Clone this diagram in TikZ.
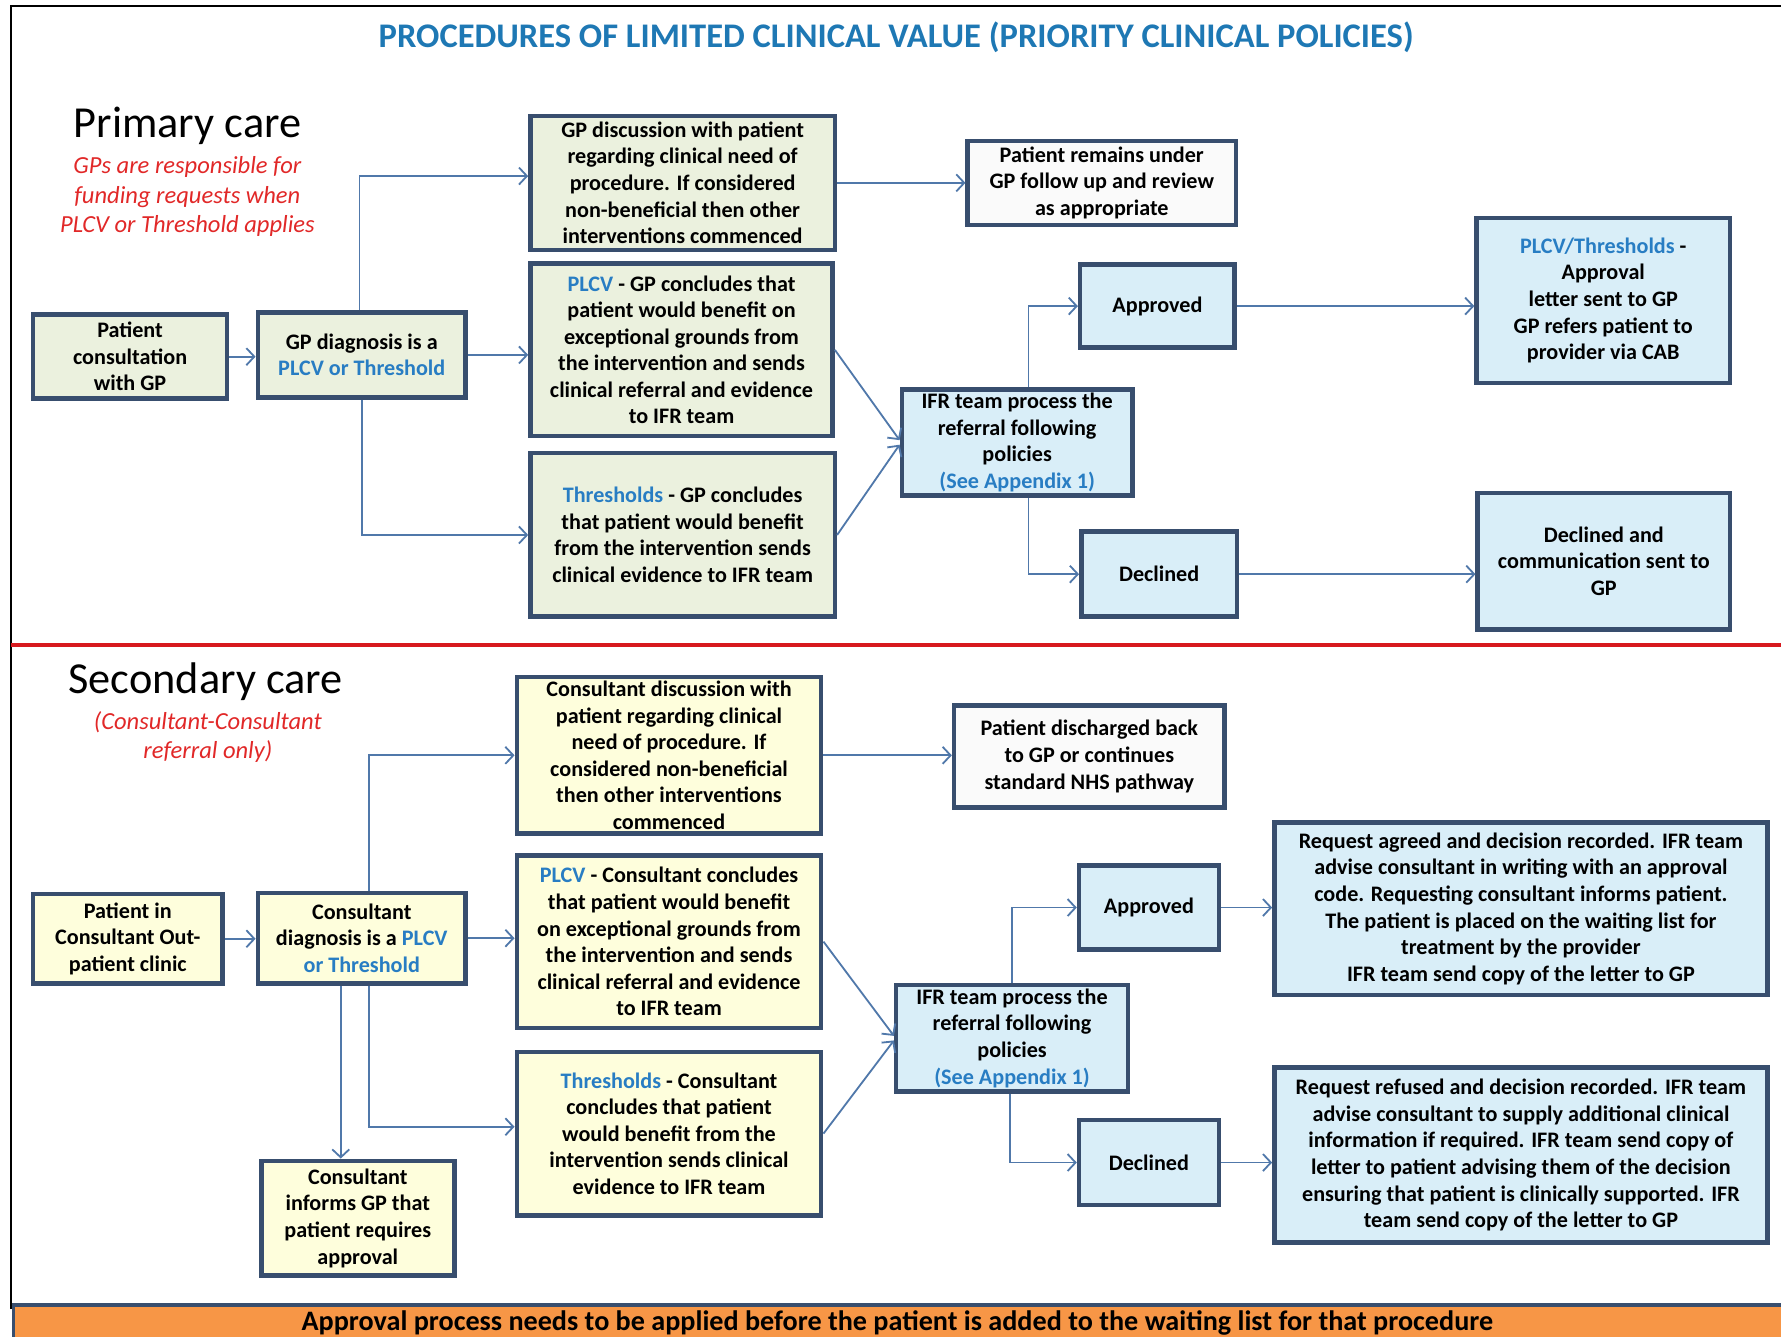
\documentclass[tikz,border=0pt]{standalone}
\usepackage{fontspec}
\setmainfont{Carlito}
\usetikzlibrary{arrows.meta}
\definecolor{bordc}{RGB}{56,78,110}
\definecolor{connc}{RGB}{80,120,170}
\definecolor{greenf}{RGB}{235,241,222}
\definecolor{yellowf}{RGB}{254,254,220}
\definecolor{bluef}{RGB}{217,238,248}
\definecolor{whitef}{RGB}{250,250,250}
\definecolor{titleblue}{RGB}{30,120,180}
\definecolor{txtblue}{RGB}{40,125,195}
\definecolor{redc}{RGB}{225,40,40}
\definecolor{divred}{RGB}{215,25,30}
\definecolor{orangef}{RGB}{247,150,70}
\newcommand{\bl}[1]{\textcolor{txtblue}{#1}}
\begin{document}
\begin{tikzpicture}[x=0.5pt,y=-0.5pt,
  boxbase/.style={draw=bordc, line width=2pt, inner sep=0pt, align=center,
     font=\fontsize{9.75pt}{11.7pt}\selectfont\bfseries},
  gbox/.style={boxbase, fill=greenf},
  ybox/.style={boxbase, fill=yellowf},
  bbox/.style={boxbase, fill=bluef},
  wbox/.style={boxbase, fill=whitef},
  conn/.style={draw=connc, line width=0.8pt, -{Straight Barb[length=3.5pt,width=7.5pt,line width=0.8pt]}},
  heading/.style={font=\fontsize{19.5pt}{23pt}\selectfont, inner sep=0pt},
  rednote/.style={text=redc, align=center, inner sep=0pt, font=\fontsize{10.8pt}{13pt}\selectfont\itshape}
]
\useasboundingbox (0,0) rectangle (1568,1177);
% frame
\draw[black, line width=0.8pt] (10,1152) -- (10,5) -- (1570,5);
% title
\node[text=titleblue, inner sep=0pt, font=\fontsize{15.2pt}{18pt}\selectfont\bfseries] (title) at (789,33)
  {PROCEDURES OF LIMITED CLINICAL VALUE (PRIORITY CLINICAL POLICIES)};
% headings
\node[heading] (prim) at (165,111) {Primary care};
\node[rednote] (primnote) at (165,173) {GPs are responsible for\\funding requests  when\\PLCV or Threshold applies};
\node[heading] (sec) at (181,600) {Secondary care};
\node[rednote] (secnote) at (183,649) {(Consultant-Consultant\\referral  only)};
% divider
\draw[divred, line width=2pt] (10,568) -- (1570,568);

% ---------- primary care boxes
\node[gbox, minimum width=85.5pt, minimum height=37pt] (pc) at (114.5,314) {Patient\\consultation\\with GP};
\node[gbox, minimum width=91.5pt, minimum height=37.5pt] (gpd) at (318.5,312.5) {GP diagnosis is a\\\bl{PLCV or Threshold}};
\node[gbox, minimum width=134pt, minimum height=59pt] (gpdisc) at (601,161) {GP discussion with patient\\regarding clinical need of\\procedure.  If considered\\non-beneficial  then other\\interventions  commenced};
\node[gbox, minimum width=133pt, minimum height=76pt] (gpplcv) at (600,308) {\bl{PLCV} -  GP concludes  that\\patient would benefit on\\exceptional grounds from\\the intervention  and sends\\clinical referral and evidence\\to IFR team};
\node[gbox, minimum width=134pt, minimum height=72pt] (gpthr) at (601,471) {\bl{Thresholds} - GP concludes\\that patient would  benefit\\from the intervention  sends\\clinical evidence to IFR team};
\node[wbox, minimum width=118pt, minimum height=37pt] (remains) at (970,161) {Patient remains under\\GP follow up and review\\as appropriate};
\node[bbox, minimum width=68pt, minimum height=36.5pt] (appr1) at (1019,269.5) {Approved};
\node[bbox, minimum width=101.5pt, minimum height=46.5pt] (ifr1) at (895.5,389.5) {IFR team process the\\referral following\\policies\\\bl{(See Appendix 1)}};
\node[bbox, minimum width=68.5pt, minimum height=37.5pt] (decl1) at (1020.5,505.5) {Declined};
\node[bbox, minimum width=111.5pt, minimum height=72.5pt] (plcvthr) at (1411.5,264.5) {\bl{PLCV/Thresholds}  -\\Approval\\letter sent to GP\\GP refers patient to\\provider via CAB};
\node[bbox, minimum width=111pt, minimum height=60pt] (declcomm) at (1412,494) {Declined and\\communication  sent to\\GP};

% ---------- secondary care boxes
\node[ybox, minimum width=83.5pt, minimum height=39.5pt] (pin) at (112.5,826.5) {Patient in\\Consultant  Out-\\patient clinic};
\node[ybox, minimum width=91.5pt, minimum height=40pt] (cdiag) at (318.5,826) {Consultant\\diagnosis is a \bl{PLCV}\\\bl{or Threshold}};
\node[ybox, minimum width=134pt, minimum height=69pt] (cdisc) at (589,665) {Consultant  discussion  with\\patient regarding clinical\\need of procedure.  If\\considered  non-beneficial\\then other interventions\\commenced};
\node[ybox, minimum width=134pt, minimum height=76pt] (cplcv) at (589,829) {\bl{PLCV} -  Consultant  concludes\\that patient would  benefit\\on exceptional grounds  from\\the intervention  and sends\\clinical referral and evidence\\to IFR team};
\node[ybox, minimum width=134pt, minimum height=72pt] (cthr) at (589,998) {\bl{Thresholds} - Consultant\\concludes that patient\\would benefit from the\\intervention  sends clinical\\evidence to IFR team};
\node[ybox, minimum width=85pt, minimum height=50.5pt] (cinf) at (315,1072.5) {Consultant\\informs GP that\\patient requires\\approval};
\node[wbox, minimum width=119pt, minimum height=45pt] (disch) at (959,666) {Patient discharged  back\\to GP or continues\\standard  NHS pathway};
\node[bbox, minimum width=61.5pt, minimum height=37pt] (appr2) at (1011.5,799) {Approved};
\node[bbox, minimum width=102pt, minimum height=47pt] (ifr2) at (891,914) {IFR team process the\\referral following\\policies\\\bl{(See Appendix 1)}};
\node[bbox, minimum width=61.5pt, minimum height=37.5pt] (decl2) at (1011.5,1023.5) {Declined};
\node[bbox, minimum width=217pt, minimum height=76pt] (agreed) at (1339,800) {Request agreed and decision recorded.  IFR team\\advise consultant in writing with an approval\\code.  Requesting consultant  informs patient.\\The patient is placed on the waiting list for\\treatment by the provider\\IFR team send copy of the letter to GP};
\node[bbox, minimum width=217pt, minimum height=77pt] (refused) at (1339,1017) {Request refused and decision recorded. IFR team\\advise consultant to supply additional  clinical\\information  if required.  IFR team send copy of\\letter to patient advising them of the decision\\ensuring that patient is clinically supported.  IFR\\team send copy of the letter to GP};

% ---------- primary connectors
\draw[conn] (pc.east) -- (pc.east -| gpd.west);
\draw[conn] ([xshift=-1pt]gpd.north) |- ([yshift=3pt]gpdisc.west);
\draw[conn] (gpd.east) -- (gpd.east -| gpplcv.west);
\draw[conn] (gpd.south) |- (gpthr.west);
\draw[conn] (gpdisc.east) -- (gpdisc.east -| remains.west);
\draw[conn] (gpplcv.east) -- ([yshift=1pt]ifr1.west);
\draw[conn] (gpthr.east) -- ([yshift=-1pt]ifr1.west);
\draw[conn] ([xshift=5pt]ifr1.north) |- (appr1.west);
\draw[conn] ([xshift=5pt]ifr1.south) |- (decl1.west);
\draw[conn] (appr1.east) -- (appr1.east -| plcvthr.west);
\draw[conn] (decl1.east) -- (decl1.east -| declcomm.west);

% ---------- secondary connectors
\coordinate (cdn) at ([xshift=3.25pt]cdiag.north);
\coordinate (cds) at ([xshift=3.25pt]cdiag.south);
\coordinate (cdt) at ([xshift=-9.25pt]cdiag.south);
\draw[conn] (pin.east) -- (pin.east -| cdiag.west);
\draw[conn] (cdn) |- (cdisc.west);
\draw[conn] (cdiag.east) -- (cdiag.east -| cplcv.west);
\draw[conn] (cds) |- ([yshift=3pt]cthr.west);
\draw[conn] (cdt) -- (cdt |- cinf.north);
\draw[conn] (cdisc.east) -- (cdisc.east -| disch.west);
\draw[conn] (cplcv.east) -- ([yshift=1pt]ifr2.west);
\draw[conn] (cthr.east) -- ([yshift=-1pt]ifr2.west);
\draw[conn] (ifr2.north) |- (appr2.west);
\draw[conn] ([xshift=-1pt]ifr2.south) |- (decl2.west);
\draw[conn] (appr2.east) -- (appr2.east -| agreed.west);
\draw[conn] (decl2.east) -- (decl2.east -| refused.west);

% ---------- banner
\fill[orangef] (12,1149) rectangle (1575,1200);
\draw[bordc, line width=1.5pt] (12,1200) -- (12,1149) -- (1575,1149);
\node[inner sep=0pt, font=\fontsize{12.4pt}{14pt}\selectfont\bfseries] (banner) at (790,1165)
  {Approval process  needs to be applied before the patient is added to the waiting list for that procedure};
\end{tikzpicture}
\end{document}
